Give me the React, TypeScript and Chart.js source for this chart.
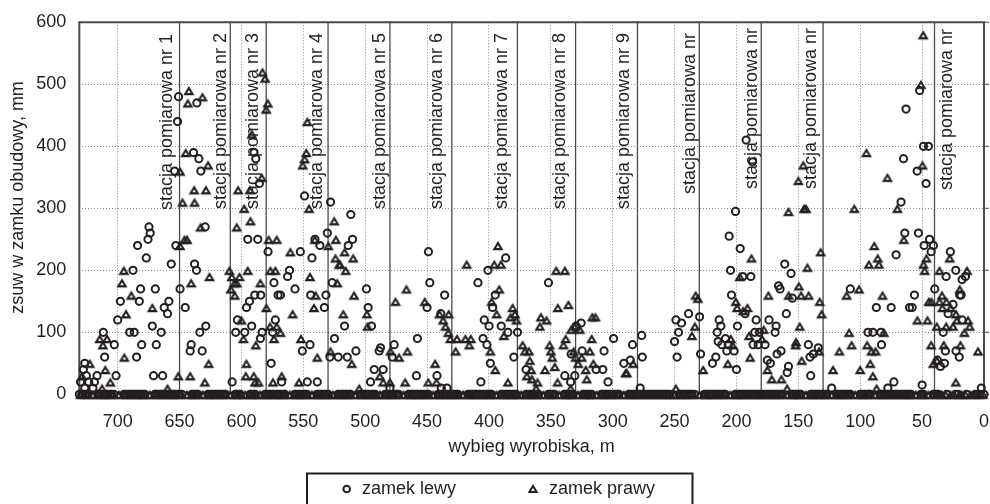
import React, { useEffect, useRef } from "react";
import { Chart, registerables } from "chart.js";

Chart.register(...registerables);

const INK = "#231f20";
const FONT = '"Liberation Sans", Arial, sans-serif';

const lewyLabel = "zamek lewy";
const prawyLabel = "zamek prawy";
const xTitle = "wybieg wyrobiska, m";
const yTitle = "zsuw w zamku obudowy, mm";

const stationX = [650, 609, 580, 530, 480, 430, 377, 330, 280, 230, 180, 130, 40];
const stationLabels = [
  "stacja pomiarowa nr 1", "stacja pomiarowa nr 2", "stacja pomiarowa nr 3", "stacja pomiarowa nr 4",
  "stacja pomiarowa nr 5", "stacja pomiarowa nr 6", "stacja pomiarowa nr 7", "stacja pomiarowa nr 8",
  "stacja pomiarowa nr 9", "stacja pomiarowa nr", "stacja pomiarowa nr", "stacja pomiarowa nr", "stacja pomiarowa nr",
];
const stationLabelDx = [-8, -4, -8, -6, -5, -10, -10, -11, -8, -4, -4, -7, 18];
const stationLabelTop = [34, 33, 33, 33, 33, 33, 33, 33, 33, 33, 28, 28, 29];

const lewy: [number, number][] = [
  [650.8,480],[651.6,440],[636,470],[654,360],[638.7,390],[634.4,380],[632.8,360],[528,310],[549,320],[589.8,390],[588.4,380],[585.5,340],
  [674.7,270],[673.7,260],[675.5,250],[683.9,240],[676.9,220],[687.6,200],[681.5,170],[669.6,170],[697.8,150],[682.5,150],[658.6,150],[662.4,140],[659.7,130],[700,120],[672,110],[690.3,100],[686.6,100],[664.8,100],[711.6,100],[702.7,80],[680.6,80],[668.8,80],[710.5,60],[684.7,60],[701.3,30],[671,30],[663.7,30],[726.6,50],[727.7,40],[725.3,30],[716.7,30],[730,20],[723.4,20],[718.8,20],[726.6,10],[720,10],
  [653,240],[656.7,210],[649.6,170],[645.4,140],[637.9,210],[636.3,200],[629.3,270],[628.8,110],[633.6,100],[640.6,80],[641.4,70],[631.7,70],[607.5,20],[603.2,120],[604.6,100],[597.3,100],[591.7,110],[595.9,140],[593.5,150],[594.9,250],[586.8,250],[589.2,160],[584.4,160],[583.3,100],[584.7,90],[578.5,230],[573.7,180],[570.4,160],[568.5,160],[572.6,120],[574.7,100],[576,50],[567.5,20],[562.7,190],[561.1,200],[556.7,170],[552.4,230],[544.6,80],[550.8,70],[546.8,20],[538.7,20],[540.6,250],[543,220],[536.6,240],[530.6,260],[544,160],[531.7,160],[533,140],[526.6,180],[524.8,90],[528.5,60],[521.8,60],
  [511.6,290],[510.2,250],[513.7,240],[499,170],[497.6,140],[494.9,110],[516.7,110],[507.5,70],[514.5,60],[487.6,75],[488.7,70],[492.7,40],[485.5,40],[495.7,20],[476.6,80],[478.2,60],[480,10],[457.8,90],[458.6,30],[448.9,230],[447.8,180],[435.8,160],[450,140],[438.9,130],[442,30],[438.5,10],[433.9,10],
  [408.9,180],[400.8,200],[386.5,220],[394.9,160],[397,140],[403.8,120],[399.9,110],[390.1,110],[384.7,100],[376.9,100],[404.8,90],[401.6,80],[398.9,50],[406.5,20],[379.9,60],[370,40],[351.9,180],[325.5,115],[329.6,110],[324.7,70],[333.6,65],[338.7,30],[330.6,30],[334,20],[299.3,90],[307,70],[313.4,40],[308,40],[303.8,20],[291,50],[285.8,55],[284,80],[276.6,95],[276.1,60],[277.8,10],
  [200.8,295],[205.9,255],[197,235],[204.8,200],[194.9,190],[188.4,190],[204,160],[193,130],[199.2,110],[184.1,120],[214,120],[212.6,110],[215.6,100],[214.8,85],[211.8,80],[208.9,90],[207.8,70],[201.9,70],[206.7,80],[216.7,60],[219.4,50],[200,40],[248.9,120],[244.4,115],[246.8,100],[250,85],[248,60],[238.7,130],[229.8,125],[229,65],[185.2,100],[181.5,100],[186.6,80],[182.5,80],[176.9,80],[173.7,120],[168,110],[168.8,100],[166,175],[164.8,170],[161,210],[155.9,195],[159.7,130],[154.8,155],[167.2,65],[164,70],[175,55],[172.6,50],[158,45],[159,35],[141.9,80],[140.6,60],[137.9,65],[133.9,75],[140,30],[108,170],[123.1,10],[93.8,100],[89.8,100],[83.3,100],[82.8,80],[87,140],[75,140],[60.2,140],[58,140],[71,225],[64,260],[53,260],[44,250],[48.4,240],[40.9,240],[42.7,230],[27.2,230],[56.2,160],[39.8,170],[30.6,190],[22.8,200],[17.7,185],[15,190],[19.6,160],[18.5,160],[25,145],[29,130],[33,100],[31.2,70],[22.6,70],[20,60],[32,50],[37.6,55],[35.2,45],[72.8,20],[77.7,10],[50,15],[2.2,10],[17.7,120],
  [192.2,410],[187,375],[63,460],[52,490],[48.9,400],[44.9,400],[65,380],[54,360],[46.8,340],[67,310],
];

const prawy: [number, number][] = [
  [642.5,490],[643.3,470],[631.5,480],[645,390],[627,370],[649.6,360],[638.2,330],[628.7,330],[647.6,310],[637.9,310],[602.7,330],[593.2,330],[597.8,300],[583,520],[580.9,510],[578.7,470],[580,460],[591.6,420],[583.6,350],[546.8,440],[547.6,390],[549,380],[550.5,370],[545.4,300],
  [633,270],[603.8,270],[592.7,280],[525,280],[646,250],[644,250],[649.7,240],[578,250],[571.5,250],[560.5,230],[529.8,240],[523.7,250],[540.8,250],[524,220],[521,210],[695,200],[609.7,200],[594.9,200],[576.6,200],[572.6,200],[625.8,190],[607.8,190],[601.6,190],[544.6,190],[696.5,180],[640.6,180],[605.6,180],[603.8,180],[584.7,180],[522.6,180],[608.6,170],[689,160],[605.4,160],[540,160],[672,140],[579.8,140],[541.4,140],[693.3,130],[558.6,130],[600,120],[576.9,110],[571.5,110],[568.5,100],[714.5,90],[708.6,90],[712,80],[598.4,90],[588.4,80],[573.7,90],[551.9,90],[694.6,60],[538.7,60],[528,70],[722.6,50],[626.5,50],[596,50],[710,40],[596.5,30],[590,30],[567.5,30],[651,30],[641.4,30],[728.8,30],[705.9,20],[629.6,20],[589,20],[586.3,20],[574.5,20],[553.5,20],[712.6,10],[659.7,10],
  [516.7,230],[509.7,220],[520.4,210],[515.8,200],[509,160],[517.7,130],[498.6,130],[498.1,110],[510.9,50],[504.8,10],[488.2,30],[485.5,20],[480,20],[479.6,70],[472.6,60],[465.9,70],[475.5,150],[466.7,170],[467.7,20],[451.9,150],[440,130],[432.5,130],[437,120],[435.1,110],[432.8,100],[431.2,90],[425.8,90],[419,90],[414.7,90],[415.9,80],[426.9,70],[443.5,50],[449,20],[442.4,20],[418,210],[392.7,240],[395.7,210],[390.3,210],[391.7,170],[397.8,150],[393.8,130],[380.9,140],[379,130],[382.5,125],[377.7,120],[388,95],[398.9,70],[394.9,40],[384.7,20],
  [372.8,80],[371,70],[367.7,70],[367,55],[365.9,40],[369.4,30],[365.3,25],[360.8,20],[361.9,10],[354.8,40],[344.6,20],[346.8,45],[348.9,60],[350,70],[351,80],[358,125],[353.5,120],[358.9,110],[345.7,200],[338.7,200],[344.4,140],[335.8,145],[339.8,80],[338,90],[333.6,105],[330.4,110],[326.6,105],[331.5,70],[330,60],[325.1,60],[327.9,50],[321.8,40],[321,25],[318.5,70],[317,90],[315.6,50],[316.5,125],[314,125],[289.5,35],[288.7,35],[283.5,50],[334,10],
  [249,10],[233,160],[231.2,155],[233.6,110],[236,95],[226.9,40],[187.9,220],[197.3,190],[200.5,150],[199.5,140],[191.1,140],[194.6,135],[178,105],[179.4,90],[189.8,95],[189,60],[204.6,90],[203.2,80],[207,50],[174.2,160],[175,40],[171.5,25],[163.7,25],[159.1,10],[157.8,160],[149.6,175],[147.8,160],[141.7,160],[142.7,205],[148.9,110],[152.2,80],[151.9,85],[147.3,55],[132.8,150],[132,230],[131.2,130],[133.3,70],[111,160],[101,170],[109,100],[107,80],[116.9,70],[122,40],[100,40],[88.7,240],[85.9,220],[93,210],[84.9,210],[82,160],[81,100],[94.4,80],[90.9,70],[87.6,70],[91.9,50],[89.8,30],[86.8,10],[64.8,250],[46.5,220],[48.9,210],[48,200],[53.8,120],[45.7,120],[42.5,150],[44.6,150],[38.2,110],[42.7,80],[38,55],[41,50],[36,200],[27.7,220],[33.9,160],[36,150],[30.4,150],[33.6,140],[27,140],[30.6,110],[32.5,80],[25,110],[22.8,20],[22.6,130],[21.8,120],[19.6,170],[13.7,200],[12.9,120],[11.6,110],[15.9,100],[19,80],[4.8,70],
  [158,295],[145.4,300],[143.8,300],[104.8,300],[70,300],[78,350],[49.7,370],[146,370],[150,345],[95,390],[51,500],[49.1,580],
];

const lewyZeroX = [
  731,729,728,726,725,724,716,715,714,712,711,709,708,706,705,703,695,694,693,691,690,688,687,685,684,682,681,679,678,670,669,668,666,665,663,662,660,659,657,656,654,653,651,650,648,640,639,637,636,635,627,626,624,623,621,620,618,617,615,614,613,605,604,602,601,593,592,590,589,581,580,578,577,575,574,572,571,569,568,566,565,557,556,554,553,551,550,548,547,539,538,536,535,533,532,530,522,521,519,518,516,515,513,512,504,503,501,500,498,497,495,494,492,484,483,481,480,478,477,475,474,473,465,464,462,461,459,458,456,455,453,452,450,449,441,440,438,437,435,434,432,431,429,428,426,425,417,416,414,413,411,410,408,407,405,404,402,401,399,398,390,389,387,386,384,383,381,379,378,370,369,367,366,364,363,361,360,352,351,349,348,347,339,338,336,335,333,332,324,323,321,320,318,317,309,308,306,305,303,302,300,299,297,296,295,287,286,284,283,281,280,278,277,275,274,272,271,269,268,266,265,263,262,260,259,257,256,254,246,245,243,242,240,239,237,236,234,226,225,223,222,220,219,217,216,214,213,211,210,209,201,200,198,197,195,194,192,191,189,188,186,185,183,182,180,179,177,176,174,173,171,170,168,167,165,164,163,155,154,152,151,149,148,140,139,137,136,134,133,131,130,128,127,119,118,116,115,113,112,110,109,108,100,99,97,96,94,93,92,84,83,81,80,78,77,75,74,72,71,69,68,66,65,63,62,60,59,51,50,49,41,40,38,37,30,23,21,14,7,5,3,0,
];
const prawyZeroX = [
  730,727,724,720,716,713,710,707,704,699,695,692,689,686,683,680,678,674,670,667,664,661,658,655,652,649,644,640,638,635,631,627,625,622,619,616,613,609,605,603,600,597,593,591,588,585,581,579,576,573,570,567,565,561,557,555,552,549,547,543,539,537,534,531,529,526,522,520,517,514,512,508,504,502,499,496,493,491,488,484,482,479,476,473,469,465,463,460,457,454,451,449,445,441,439,436,433,430,427,425,421,417,415,412,409,406,403,400,398,394,390,388,385,382,380,377,374,370,368,365,362,360,356,352,350,347,343,339,337,334,332,328,324,322,319,317,313,309,307,304,301,298,295,291,287,285,282,279,276,273,270,267,264,261,258,255,253,250,246,244,241,238,235,230,226,224,221,218,215,212,209,205,201,199,196,193,190,187,184,181,178,175,172,169,166,163,159,155,153,150,148,144,140,138,135,132,129,127,123,119,117,114,111,108,104,100,98,95,92,88,84,82,79,76,73,70,67,64,61,59,55,51,49,45,41,37,34,31,27,24,20,18,15,11,8,4,1,
];

const pts = (list: [number, number][], zeros: number[]) => [
  ...zeros.map((x) => ({ x, y: 0 })),
  ...list.map(([x, y]) => ({ x, y })),
];

function triangleMark() {
  const c = document.createElement("canvas");
  c.width = 14;
  c.height = 13;
  const g = c.getContext("2d")!;
  g.strokeStyle = INK;
  g.lineWidth = 2.1;
  g.lineJoin = "miter";
  g.beginPath();
  g.moveTo(7, 3.93);
  g.lineTo(10.7, 10.13);
  g.lineTo(3.3, 10.13);
  g.closePath();
  g.stroke();
  return c;
}

const overlay = {
  id: "overlay",
  beforeDatasetsDraw(chart: any) {
    const { ctx, chartArea: a, scales } = chart;
    ctx.save();
    ctx.strokeStyle = "#4a4a4a";
    ctx.lineWidth = 1.3;
    stationX.forEach((v) => {
      const px = scales.x.getPixelForValue(v);
      ctx.beginPath();
      ctx.moveTo(px, a.top);
      ctx.lineTo(px, a.bottom);
      ctx.stroke();
    });
    ctx.strokeStyle = "#4a4a4a";
    ctx.lineWidth = 2;
    ctx.beginPath();
    ctx.moveTo(a.left, a.bottom);
    ctx.lineTo(a.left, a.top);
    ctx.lineTo(a.right, a.top);
    ctx.lineTo(a.right, a.bottom);
    ctx.stroke();
    ctx.lineWidth = 1;
    scales.y.ticks.forEach((t: any) => {
      const py = scales.y.getPixelForValue(t.value);
      ctx.beginPath();
      ctx.moveTo(a.right, py);
      ctx.lineTo(a.right + 5, py);
      ctx.stroke();
    });
    ctx.fillStyle = INK;
    ctx.font = `18px ${FONT}`;
    ctx.textAlign = "right";
    ctx.textBaseline = "alphabetic";
    stationLabels.forEach((label, i) => {
      ctx.save();
      ctx.translate(scales.x.getPixelForValue(stationX[i]) + stationLabelDx[i], stationLabelTop[i]);
      ctx.rotate(-Math.PI / 2);
      ctx.fillText(label, 0, 0);
      ctx.restore();
    });
    ctx.textAlign = "center";
    ctx.textBaseline = "middle";
    ctx.save();
    ctx.translate(18, 197.5);
    ctx.rotate(-Math.PI / 2);
    ctx.fillText(yTitle, 0, 0);
    ctx.restore();
    ctx.restore();
  },
  afterDraw(chart: any) {
    const { ctx } = chart;
    ctx.save();
    ctx.strokeStyle = INK;
    ctx.lineWidth = 2;
    ctx.beginPath();
    ctx.moveTo(307, 505);
    ctx.lineTo(307, 473.5);
    ctx.lineTo(692.5, 473.5);
    ctx.lineTo(692.5, 505);
    ctx.stroke();
    ctx.beginPath();
    ctx.arc(346.7, 489, 3.3, 0, Math.PI * 2);
    ctx.stroke();
    ctx.beginPath();
    ctx.moveTo(533, 486);
    ctx.lineTo(536.6, 492);
    ctx.lineTo(529.4, 492);
    ctx.closePath();
    ctx.stroke();
    ctx.fillStyle = INK;
    ctx.font = `18px ${FONT}`;
    ctx.textAlign = "left";
    ctx.textBaseline = "middle";
    ctx.fillText(lewyLabel, 362, 489.5);
    ctx.fillText(prawyLabel, 549, 489.5);
    ctx.restore();
  },
};

export default function App() {
  const ref = useRef<HTMLCanvasElement>(null);
  useEffect(() => {
    const chart = new Chart(ref.current!, {
      type: "scatter",
      data: {
        datasets: [
          {
            label: prawyLabel,
            data: pts(prawy, prawyZeroX),
            pointStyle: triangleMark(),
            pointRadius: 5,
            clip: false,
          },
          {
            label: lewyLabel,
            data: pts(lewy, lewyZeroX),
            pointStyle: "circle",
            pointRadius: 3.6,
            pointBorderWidth: 2,
            pointBorderColor: INK,
            pointBackgroundColor: "transparent",
            clip: false,
          },
        ],
      },
      options: {
        animation: false,
        responsive: false,
        layout: { padding: { top: 22.3, right: 4.7, left: 0, bottom: 46.5 } },
        plugins: { legend: { display: false }, tooltip: { enabled: false } },
        scales: {
          x: {
            type: "linear",
            reverse: true,
            min: 0,
            max: 731,
            afterFit: (s: any) => {
              s.height = 63.2;
              s.paddingLeft = 0;
              s.paddingRight = 0;
            },
            ticks: { stepSize: 50, includeBounds: false, maxRotation: 0, autoSkip: false, padding: 17, color: INK, font: { family: FONT, size: 18 } },
            title: { display: true, text: xTitle, color: INK, font: { family: FONT, size: 18 }, padding: { top: 5, bottom: 0 } },
            grid: { color: "#8a8a8a", lineWidth: 1, drawTicks: false },
            border: { display: false, dash: [1, 2] },
          },
          y: {
            min: 0,
            max: 600,
            afterFit: (s: any) => {
              s.width = 79.3;
              s.paddingTop = 0;
              s.paddingBottom = 0;
            },
            ticks: { stepSize: 100, padding: 13, color: INK, font: { family: FONT, size: 18 } },
            grid: { color: "#8a8a8a", lineWidth: 1, drawTicks: false },
            border: { display: false, dash: [1, 2] },
          },
        },
      },
      plugins: [overlay],
    } as any);
    return () => chart.destroy();
  }, []);
  return <canvas ref={ref} width={990} height={504} style={{ position: "absolute", left: 0, top: 0, width: 990, height: 504 }} />;
}
